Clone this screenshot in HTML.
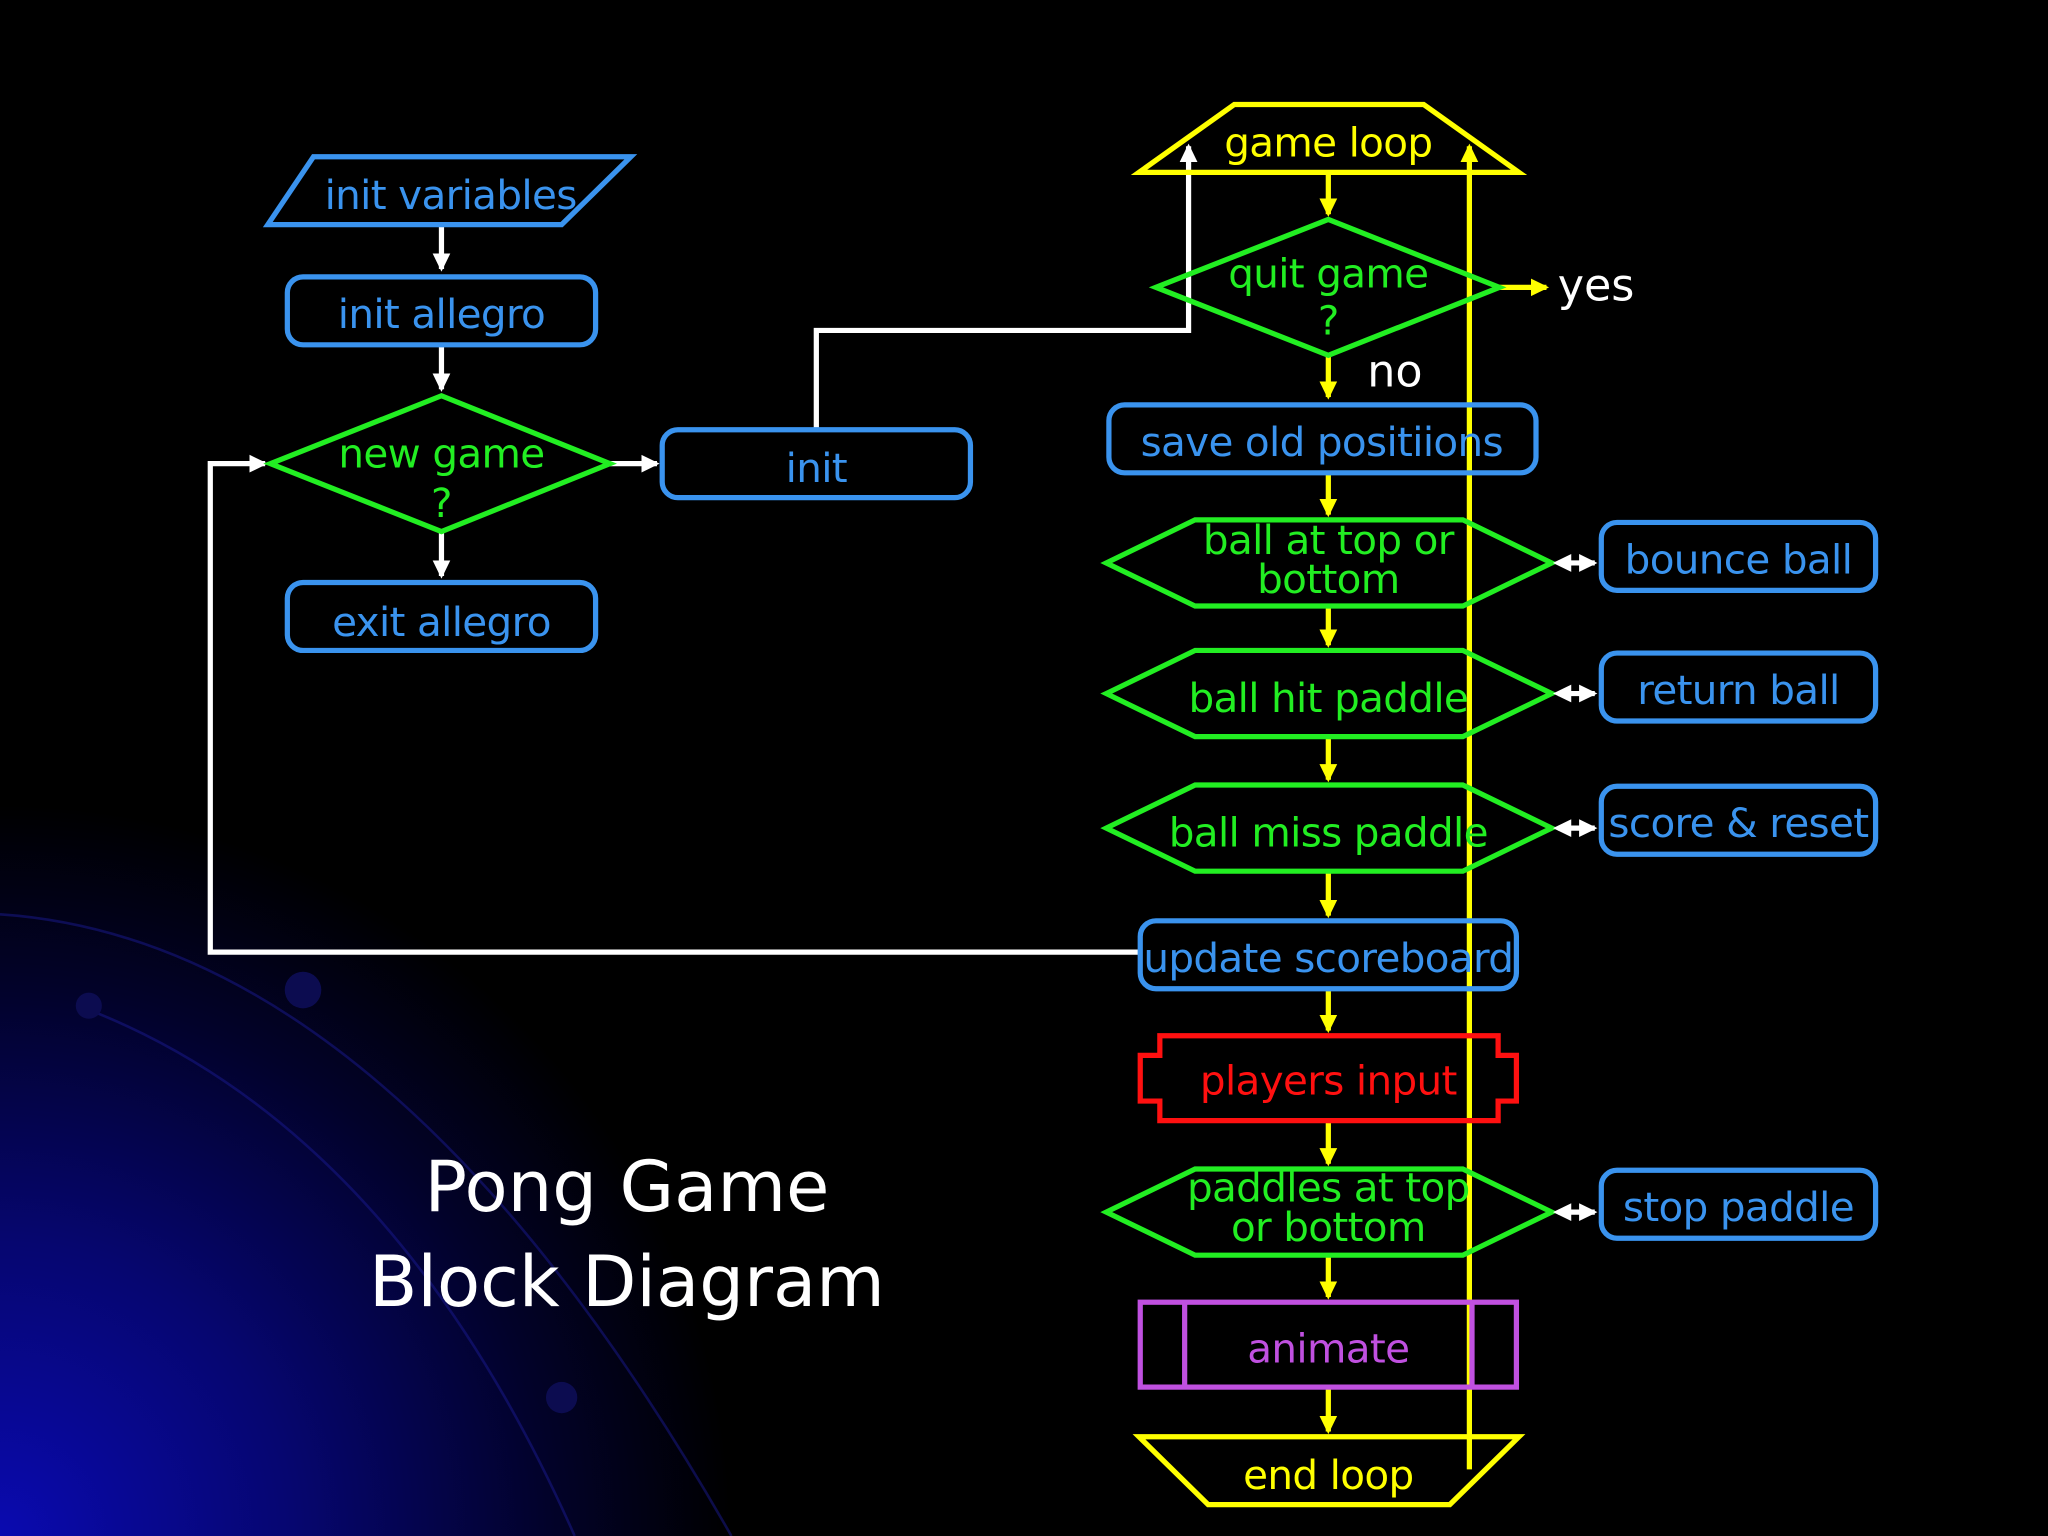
<!DOCTYPE html>
<html><head><meta charset="utf-8"><style>
html,body{margin:0;padding:0;background:#000;}
svg{display:block;}
text{font-family:"DejaVu Sans","Liberation Sans",sans-serif;text-anchor:middle;}
</style></head><body>
<svg width="2048" height="1536" viewBox="0 0 1568 1176" xmlns="http://www.w3.org/2000/svg">
<defs>
<radialGradient id="bg" cx="0" cy="1176" r="560" gradientUnits="userSpaceOnUse">
<stop offset="0" stop-color="#0a0ab0"/><stop offset="0.4" stop-color="#060670"/><stop offset="0.75" stop-color="#02022a"/><stop offset="1" stop-color="#000"/>
</radialGradient>
<marker id="aw" markerWidth="4" markerHeight="4" refX="3" refY="2" orient="auto" markerUnits="strokeWidth"><path d="M0,0.3 L3.5,2 L0,3.7z" fill="#fff"/></marker>
<marker id="ay" markerWidth="4" markerHeight="4" refX="3" refY="2" orient="auto" markerUnits="strokeWidth"><path d="M0,0.3 L3.5,2 L0,3.7z" fill="#ff0"/></marker>
<marker id="aws" markerWidth="4" markerHeight="4" refX="1" refY="2" orient="auto" markerUnits="strokeWidth"><path d="M3.5,0.3 L0,2 L3.5,3.7z" fill="#fff"/></marker>
</defs>
<rect width="1568" height="1176" fill="#000"/>
<rect width="1568" height="1176" fill="url(#bg)"/>
<g fill="none" stroke="#1a1a90" stroke-width="2" opacity="0.5">
<path d="M0,700 Q300,720 560,1176"/><path d="M60,770 Q300,860 440,1176"/>
</g>
<circle cx="232" cy="758" r="14" fill="#0c0c50"/><circle cx="68" cy="770" r="10" fill="#0c0c50"/><circle cx="430" cy="1070" r="12" fill="#0c0c50"/>

<g stroke="#fff" stroke-width="4" fill="none">
<line x1="338" y1="172" x2="338" y2="206" marker-end="url(#aw)"/>
<line x1="338" y1="264" x2="338" y2="298" marker-end="url(#aw)"/>
<line x1="338" y1="407" x2="338" y2="441" marker-end="url(#aw)"/>
<line x1="467" y1="355" x2="503" y2="355" marker-end="url(#aw)"/>
<polyline points="625,329 625,253 910,253 910,112" marker-end="url(#aw)"/>
<polyline points="873,729 161,729 161,355 203,355" marker-end="url(#aw)"/>
</g>

<g fill="none" stroke="#3a93ee" stroke-width="4">
<polygon points="205,172 240,120 483,120 430,172"/>
<rect x="220" y="212" width="236" height="52" rx="12"/>
<rect x="220" y="446" width="236" height="52" rx="12"/>
<rect x="507" y="329" width="236" height="52" rx="12"/>
</g>
<polygon points="207,355 338,303 467,355 338,407" fill="none" stroke="#22ee22" stroke-width="4"/>
<g fill="#3a93ee" font-size="31" letter-spacing="-0.5">
<text x="345" y="160">init variables</text>
<text x="338" y="251">init allegro</text>
<text x="338" y="487">exit allegro</text>
<text x="625" y="369">init</text>
</g>
<g fill="#22ee22" font-size="31" letter-spacing="-0.5">
<text x="338" y="358">new game</text>
<text x="338" y="396">?</text>
</g>

<g stroke="#ff0" stroke-width="4" fill="none">
<polygon points="872,132 945,80 1090,80 1163,132"/>
<polygon points="872,1100 1163,1100 1110,1152 925,1152"/>
<line x1="1125" y1="1125" x2="1125" y2="112" marker-end="url(#ay)"/>
<line x1="1017" y1="132" x2="1017" y2="164" marker-end="url(#ay)"/>
<line x1="1017" y1="272" x2="1017" y2="304" marker-end="url(#ay)"/>
<line x1="1017" y1="362" x2="1017" y2="394" marker-end="url(#ay)"/>
<line x1="1017" y1="464" x2="1017" y2="494" marker-end="url(#ay)"/>
<line x1="1017" y1="564" x2="1017" y2="597" marker-end="url(#ay)"/>
<line x1="1017" y1="667" x2="1017" y2="701" marker-end="url(#ay)"/>
<line x1="1017" y1="757" x2="1017" y2="789" marker-end="url(#ay)"/>
<line x1="1017" y1="858" x2="1017" y2="891" marker-end="url(#ay)"/>
<line x1="1017" y1="961" x2="1017" y2="993" marker-end="url(#ay)"/>
<line x1="1017" y1="1062" x2="1017" y2="1096" marker-end="url(#ay)"/>
<line x1="1148" y1="220" x2="1184" y2="220" marker-end="url(#ay)"/>
</g>
<g fill="#ff0" font-size="31" letter-spacing="-0.5">
<text x="1017" y="120">game loop</text>
<text x="1017" y="1140">end loop</text>
</g>

<g fill="none" stroke="#22ee22" stroke-width="4">
<polygon points="885,220 1017,168 1148,220 1017,272"/>
<polygon points="847,431 915,398 1120,398 1188,431 1120,464 915,464"/>
<polygon points="847,531 915,498 1120,498 1188,531 1120,564 915,564"/>
<polygon points="847,634 915,601 1120,601 1188,634 1120,667 915,667"/>
<polygon points="847,928 915,895 1120,895 1188,928 1120,961 915,961"/>
</g>
<g fill="#22ee22" font-size="31" letter-spacing="-0.5">
<text x="1017" y="220">quit game</text>
<text x="1017" y="256">?</text>
<text x="1017" y="424">ball at top or</text>
<text x="1017" y="454">bottom</text>
<text x="1017" y="545">ball hit paddle</text>
<text x="1017" y="648">ball miss paddle</text>
<text x="1017" y="920">paddles at top</text>
<text x="1017" y="950">or bottom</text>
</g>

<g fill="none" stroke="#3a93ee" stroke-width="4">
<rect x="849" y="310" width="327" height="52" rx="12"/>
<rect x="873" y="705" width="288" height="52" rx="12"/>
<rect x="1226" y="400" width="210" height="52" rx="12"/>
<rect x="1226" y="500" width="210" height="52" rx="12"/>
<rect x="1226" y="602" width="210" height="52" rx="12"/>
<rect x="1226" y="896" width="210" height="52" rx="12"/>
</g>
<g fill="#3a93ee" font-size="31" letter-spacing="-0.5">
<text x="1012" y="349">save old positiions</text>
<text x="1017" y="744">update scoreboard</text>
<text x="1331" y="439">bounce ball</text>
<text x="1331" y="539">return ball</text>
<text x="1331" y="641">score &amp; reset</text>
<text x="1331" y="935">stop paddle</text>
</g>

<g stroke="#fff" stroke-width="4">
<line x1="1193" y1="431" x2="1221" y2="431" marker-start="url(#aws)" marker-end="url(#aw)"/>
<line x1="1193" y1="531" x2="1221" y2="531" marker-start="url(#aws)" marker-end="url(#aw)"/>
<line x1="1193" y1="634" x2="1221" y2="634" marker-start="url(#aws)" marker-end="url(#aw)"/>
<line x1="1193" y1="928" x2="1221" y2="928" marker-start="url(#aws)" marker-end="url(#aw)"/>
</g>

<polygon points="888,793 1147,793 1147,808 1161,808 1161,843 1147,843 1147,858 888,858 888,843 873,843 873,808 888,808" fill="none" stroke="#ff1010" stroke-width="4"/>
<text x="1017" y="838" fill="#ff1010" font-size="31" letter-spacing="-0.5">players  input</text>

<g fill="none" stroke="#c050e0" stroke-width="4">
<rect x="873" y="997" width="288" height="65"/>
<line x1="907" y1="997" x2="907" y2="1062"/>
<line x1="1127" y1="997" x2="1127" y2="1062"/>
</g>
<text x="1017" y="1043" fill="#c050e0" font-size="31" letter-spacing="-0.5">animate</text>

<g fill="#fff" font-size="34">
<text x="1222" y="230">yes</text>
<text x="1068" y="296">no</text>
</g>
<g fill="#fff" font-size="54">
<text x="480" y="927">Pong Game</text>
<text x="480" y="1000">Block Diagram</text>
</g>
</svg>
</body></html>
